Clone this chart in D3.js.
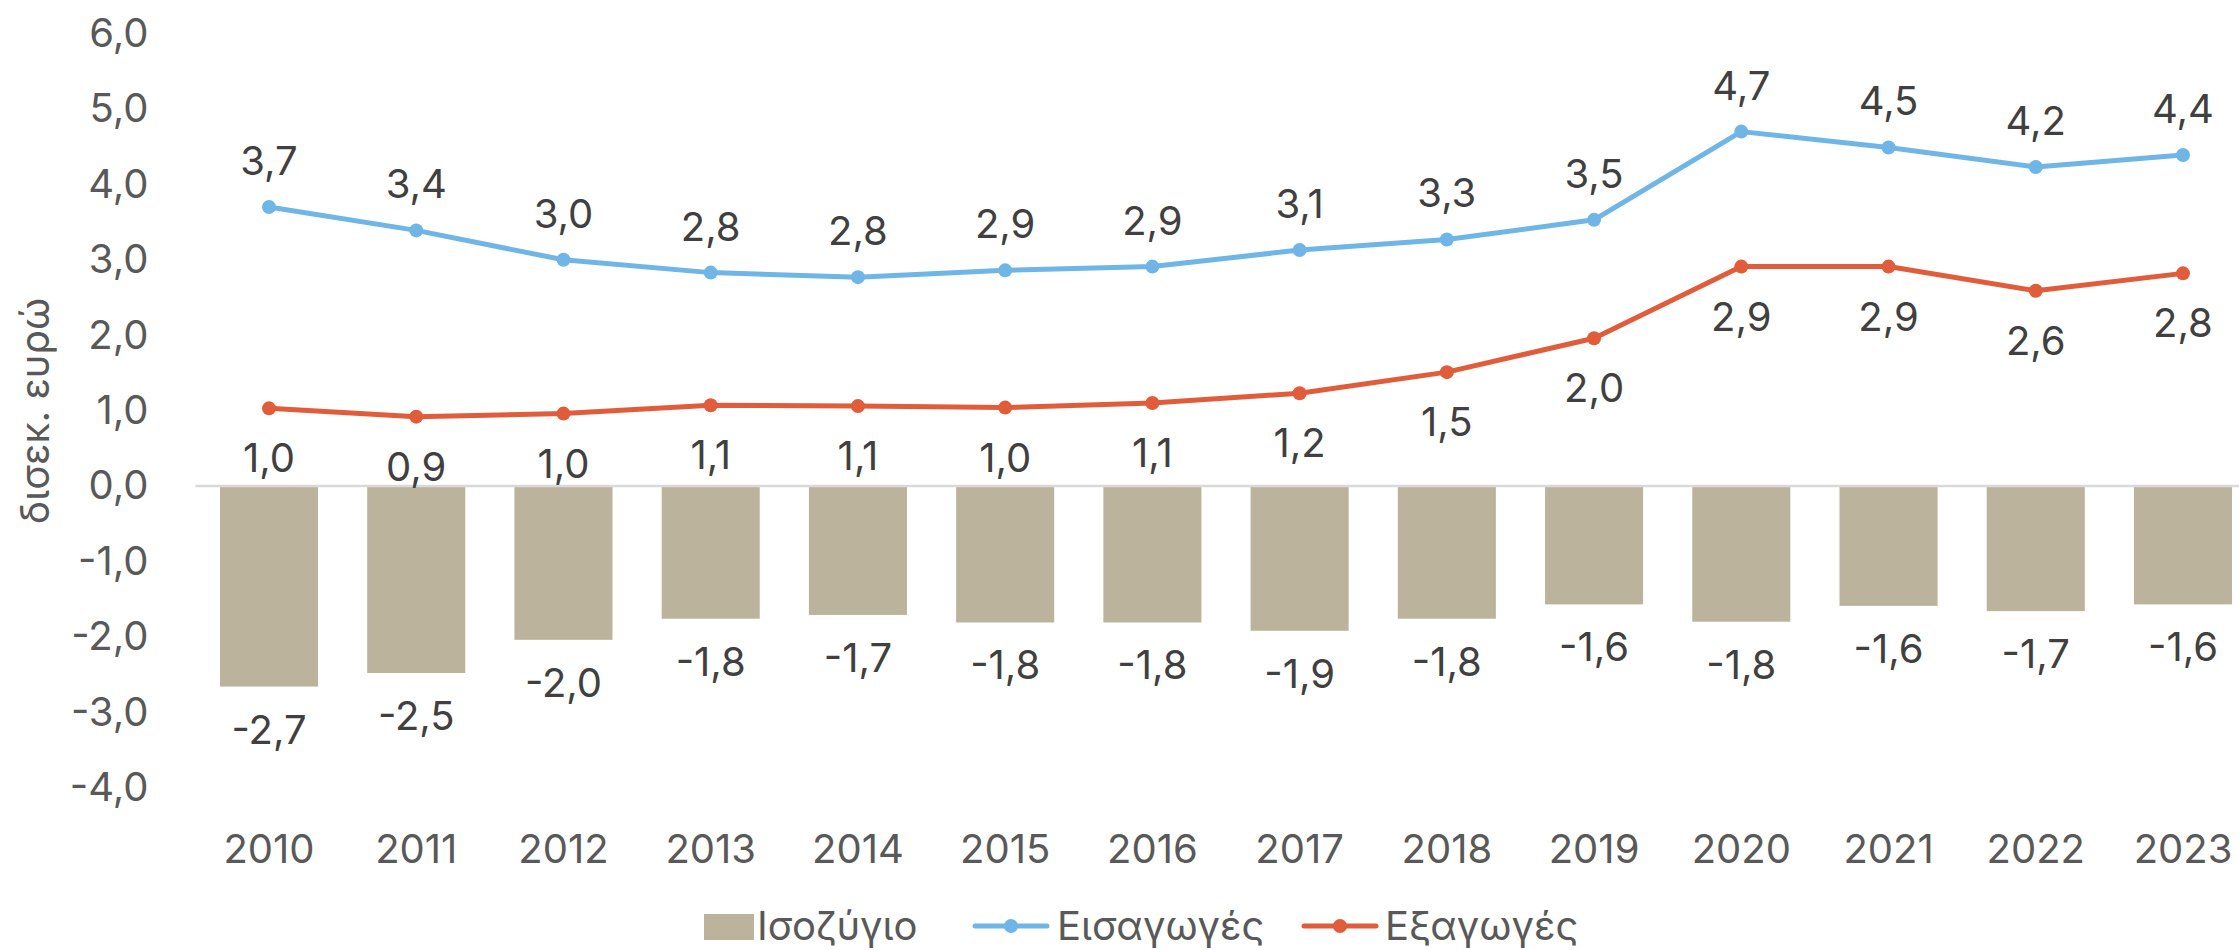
<!DOCTYPE html>
<html>
<head>
<meta charset="utf-8">
<script src="https://cdn.jsdelivr.net/npm/d3@7"></script>
<style>
  html, body { margin: 0; padding: 0; background: #ffffff; }
  svg { display: block; }
  text { font-family: Inter, "Open Sans", sans-serif; }
</style>
</head>
<body>
<svg id="chart" width="2239" height="950"></svg>
<script>
// Εμπορικό ισοζύγιο, εισαγωγές και εξαγωγές (δισεκ. ευρώ)
const years = ["2010","2011","2012","2013","2014","2015","2016","2017","2018","2019","2020","2021","2022","2023"];
const balance = [-2.66,-2.48,-2.04,-1.76,-1.71,-1.81,-1.81,-1.92,-1.76,-1.57,-1.80,-1.59,-1.66,-1.57];
const imports = [3.70,3.39,3.00,2.83,2.77,2.86,2.91,3.13,3.27,3.53,4.70,4.49,4.23,4.39];
const exports = [1.03,0.92,0.96,1.07,1.06,1.04,1.10,1.23,1.51,1.96,2.91,2.91,2.59,2.82];
const yTicks = [-4,-3,-2,-1,0,1,2,3,4,5,6];
const seriesNames = ["Ισοζύγιο","Εισαγωγές","Εξαγωγές"];
const yTitle = "δισεκ. ευρώ";

const colors = { bar: "#BCB39C", imp: "#6FB6E6", exp: "#E15C3B", zero: "#D9D9D9", tick: "#595959", label: "#404040" };
const fontSize = 40;

const svg = d3.select("#chart");
const plot = { left: 195.4, right: 2256.6, top: 33.6, bottom: 787.6 };

const x = d3.scaleBand().domain(years).range([plot.left, plot.right])
  .paddingInner(0.334).paddingOuter(0.167);
const y = d3.scaleLinear().domain([-4, 6]).range([plot.bottom, plot.top]);
const cx = d => x(d) + x.bandwidth() / 2;
const fmt = v => d3.format(".1f")(v).replace(".", ",").replace("−", "-");

// y axis labels
const yAxis = svg.append("g").attr("transform", `translate(${plot.left},0)`)
  .call(d3.axisLeft(y).tickValues(yTicks).tickSize(0).tickPadding(47).tickFormat(fmt));
yAxis.select(".domain").remove();
yAxis.selectAll("text").attr("font-size", fontSize).attr("fill", colors.tick)
  .attr("font-family", "Inter, 'Open Sans', sans-serif");

// x axis labels
const xAxis = svg.append("g").attr("transform", `translate(0,${plot.bottom})`)
  .call(d3.axisBottom(x).tickSize(0).tickPadding(47));
xAxis.select(".domain").remove();
xAxis.selectAll("text").attr("font-size", fontSize).attr("fill", colors.tick)
  .attr("font-family", "Inter, 'Open Sans', sans-serif");

// axis title
svg.append("text")
  .attr("transform", `translate(49,411) rotate(-90)`)
  .attr("text-anchor", "middle")
  .attr("font-size", fontSize).attr("fill", colors.tick)
  .text(yTitle);

// balance bars
svg.append("g").selectAll("rect").data(years).join("rect")
  .attr("x", d => x(d))
  .attr("width", x.bandwidth())
  .attr("y", (d, i) => y(Math.max(0, balance[i])))
  .attr("height", (d, i) => Math.abs(y(balance[i]) - y(0)))
  .attr("fill", colors.bar);

// zero line
svg.append("line")
  .attr("x1", plot.left).attr("x2", plot.right)
  .attr("y1", y(0)).attr("y2", y(0))
  .attr("stroke", colors.zero).attr("stroke-width", 2.5);

// lines with markers
function drawSeries(values, color) {
  const line = d3.line().x((d, i) => cx(years[i])).y(d => y(d));
  svg.append("path").datum(values)
    .attr("d", line).attr("fill", "none")
    .attr("stroke", color).attr("stroke-width", 5)
    .attr("stroke-linejoin", "round").attr("stroke-linecap", "round");
  svg.append("g").selectAll("circle").data(values).join("circle")
    .attr("cx", (d, i) => cx(years[i])).attr("cy", d => y(d))
    .attr("r", 7).attr("fill", color);
}
drawSeries(imports, colors.imp);
drawSeries(exports, colors.exp);

// data labels
const labels = svg.append("g").attr("font-size", fontSize).attr("fill", colors.label)
  .attr("text-anchor", "middle");
labels.selectAll(".lb-bal").data(balance).join("text").attr("class", "lb-bal")
  .attr("x", (d, i) => cx(years[i])).attr("y", d => y(d) + 57).text(fmt);
labels.selectAll(".lb-imp").data(imports).join("text").attr("class", "lb-imp")
  .attr("x", (d, i) => cx(years[i])).attr("y", d => y(d) - 32).text(fmt);
labels.selectAll(".lb-exp").data(exports).join("text").attr("class", "lb-exp")
  .attr("x", (d, i) => cx(years[i])).attr("y", d => y(d) + 64).text(fmt);

// legend
const legend = svg.append("g").attr("font-size", fontSize).attr("fill", colors.tick);
const legY = 940;
legend.append("rect").attr("x", 704).attr("y", legY - 26).attr("width", 50).attr("height", 26)
  .attr("fill", colors.bar);
legend.append("text").attr("x", 757).attr("y", legY).text(seriesNames[0]);
[[975, colors.imp, 1057, seriesNames[1]], [1304, colors.exp, 1385, seriesNames[2]]].forEach(([lx, c, tx, name]) => {
  legend.append("line").attr("x1", lx).attr("x2", lx + 72)
    .attr("y1", legY - 14).attr("y2", legY - 14)
    .attr("stroke", c).attr("stroke-width", 5).attr("stroke-linecap", "round");
  legend.append("circle").attr("cx", lx + 36).attr("cy", legY - 14).attr("r", 7).attr("fill", c);
  legend.append("text").attr("x", tx).attr("y", legY).text(name);
});
</script>
</body>
</html>
